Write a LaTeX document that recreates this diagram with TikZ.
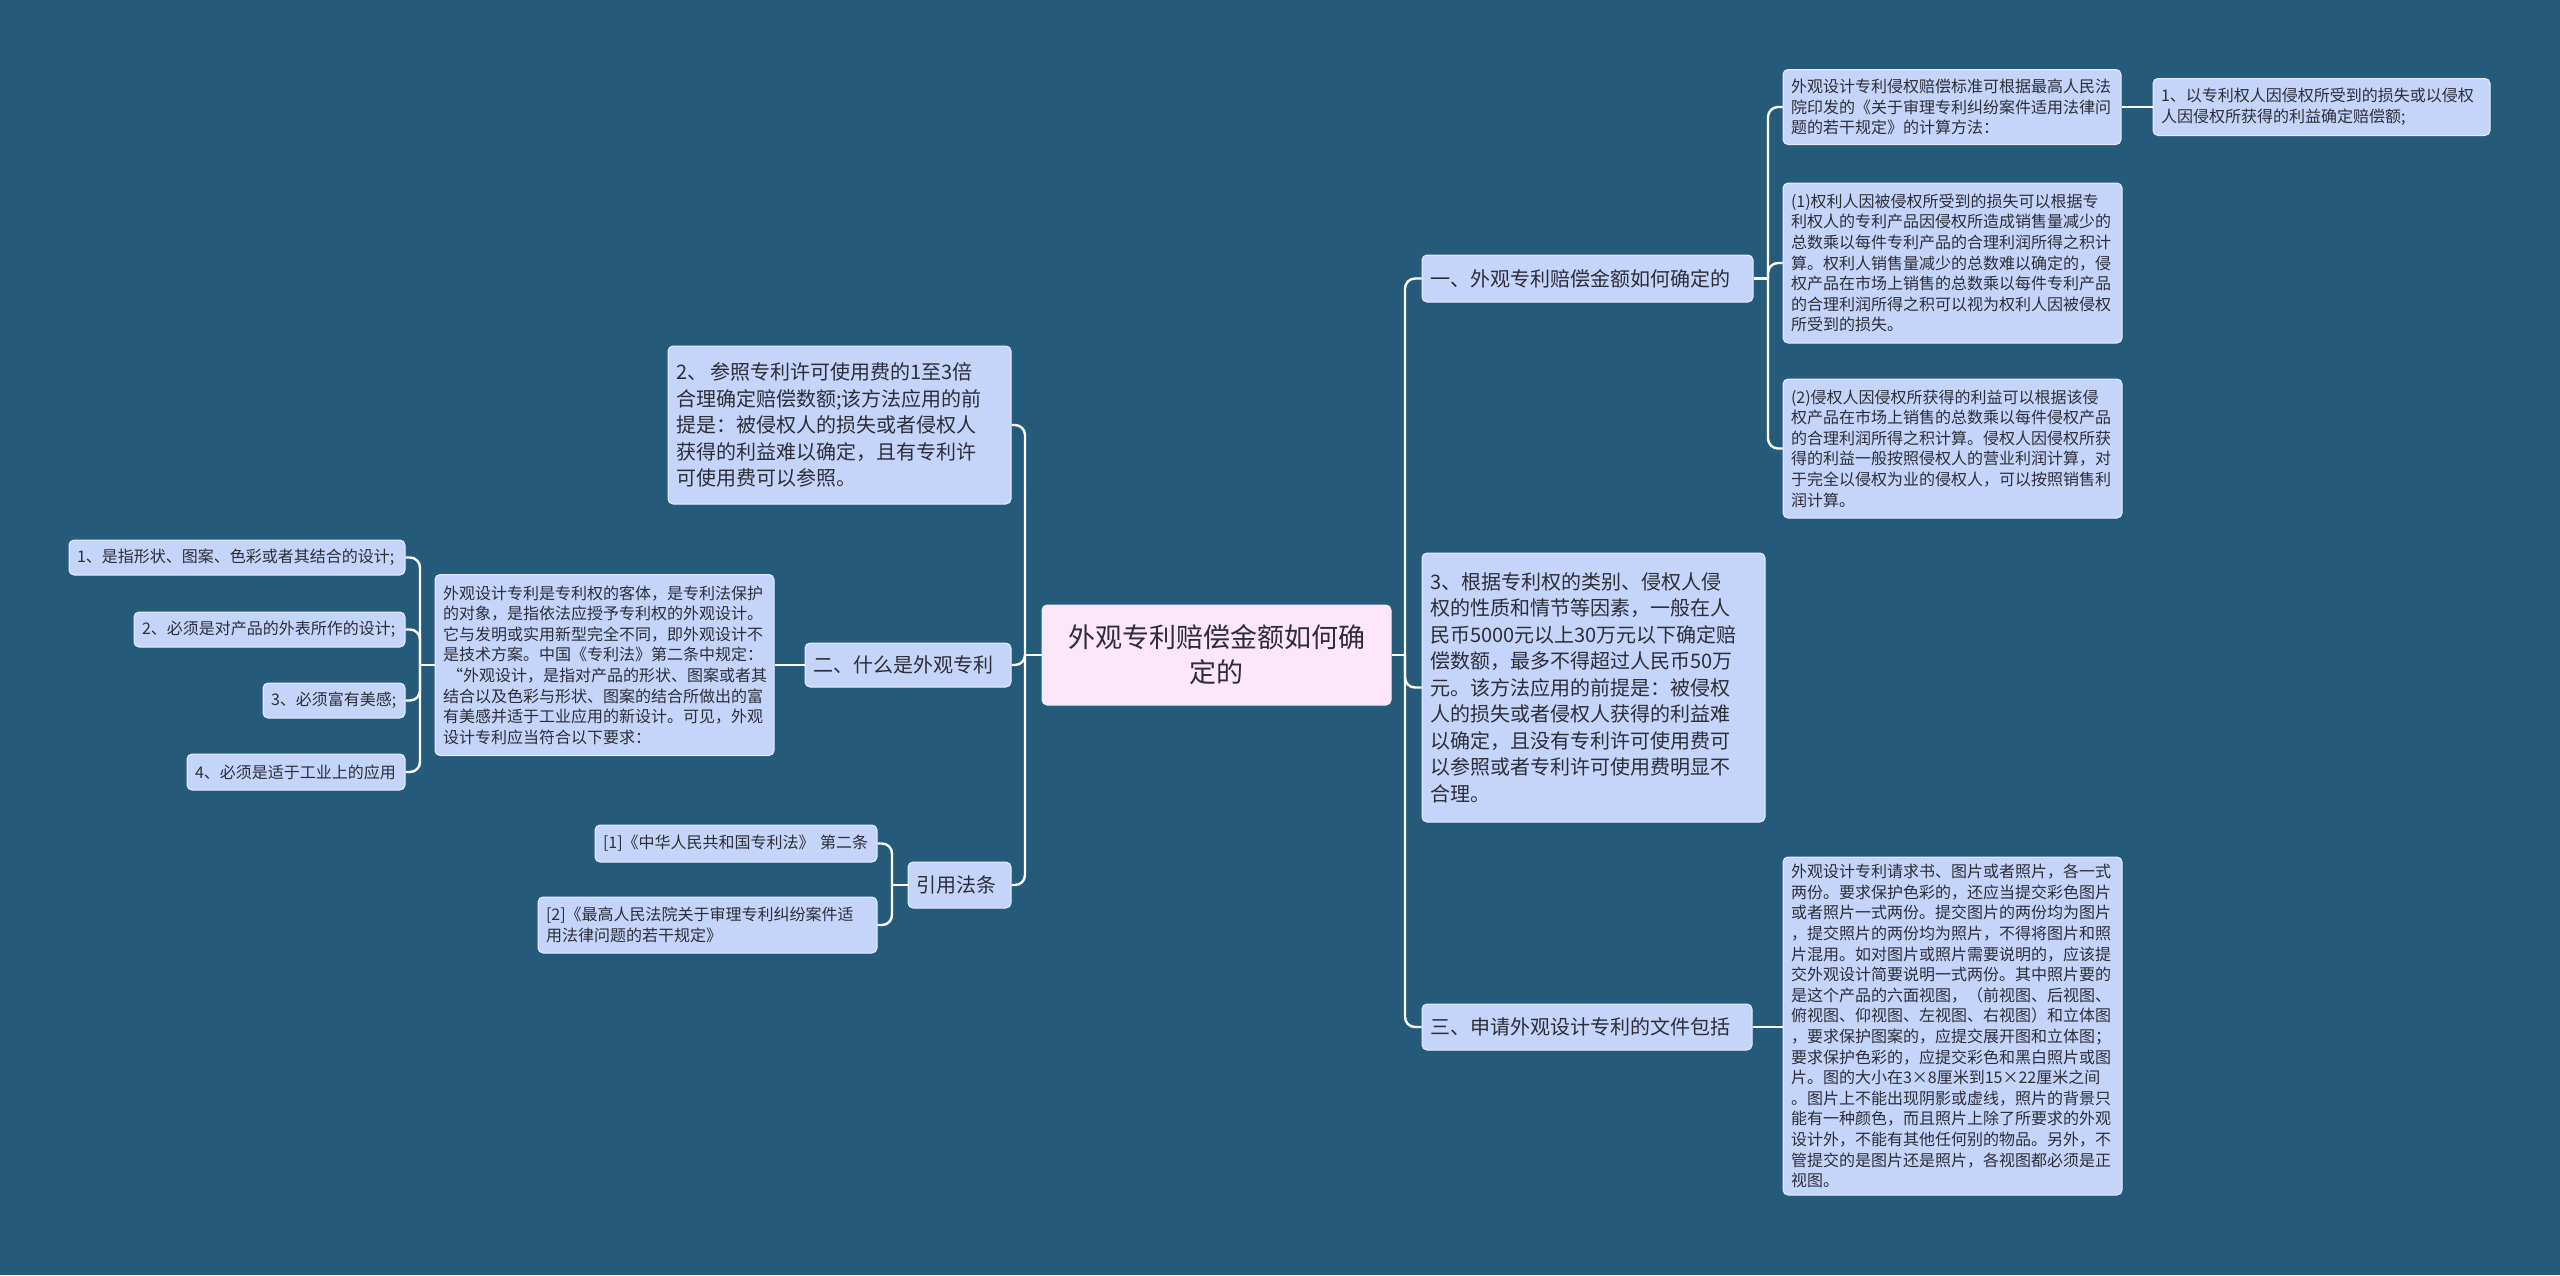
\documentclass[tikz,border=0pt]{standalone}
\usepackage{fontspec}
\setmainfont{Noto Sans CJK SC}
\definecolor{bg}{RGB}{38,90,122}
\definecolor{nodefill}{RGB}{197,213,250}
\definecolor{rootfill}{RGB}{253,230,247}
\definecolor{txt}{RGB}{45,45,55}
\definecolor{edge}{RGB}{232,238,255}
\tikzset{
  base/.style={draw=edge, line width=1pt, rounded corners=5pt, fill=nodefill, text=txt,
    inner xsep=8pt, inner ysep=0pt, align=left},
  small/.style={base, font=\fontsize{16}{20.6}\selectfont},
  mid/.style={base, font=\fontsize{20}{26.5}\selectfont},
  rootbox/.style={base, fill=rootfill, align=center, font=\fontsize{27}{35}\selectfont},
  conn/.style={draw=white, line width=2.4pt, rounded corners=10pt},
}
\begin{document}
\begin{tikzpicture}[x=1pt,y=-1pt]
\useasboundingbox[fill=bg] (0,0) rectangle (2560,1275);

% root
\node[rootbox, minimum width=349pt, minimum height=100pt, text width=329pt] (root) at (1216.5,655) {外观专利赔偿金额如何确\\定的};

% right side
\node[mid, minimum width=331pt, minimum height=47pt, text width=315pt] (c1) at (1587.5,278.5) {一、外观专利赔偿金额如何确定的};
\node[small, minimum width=338pt, minimum height=75pt, text width=322pt] (a1) at (1952,107) {外观设计专利侵权赔偿标准可根据最高人民法\\院印发的《关于审理专利纠纷案件适用法律问\\题的若干规定》的计算方法：};
\node[small, minimum width=337pt, minimum height=57pt, text width=321pt] (la) at (2321.5,107) {1、以专利权人因侵权所受到的损失或以侵权\\人因侵权所获得的利益确定赔偿额;};
\node[small, minimum width=339pt, minimum height=160pt, text width=323pt] (p1) at (1952.5,263) {(1)权利人因被侵权所受到的损失可以根据专\\利权人的专利产品因侵权所造成销售量减少的\\总数乘以每件专利产品的合理利润所得之积计\\算。权利人销售量减少的总数难以确定的，侵\\权产品在市场上销售的总数乘以每件专利产品\\的合理利润所得之积可以视为权利人因被侵权\\所受到的损失。};
\node[small, minimum width=339pt, minimum height=139pt, text width=323pt] (p2) at (1952.5,448.5) {(2)侵权人因侵权所获得的利益可以根据该侵\\权产品在市场上销售的总数乘以每件侵权产品\\的合理利润所得之积计算。侵权人因侵权所获\\得的利益一般按照侵权人的营业利润计算，对\\于完全以侵权为业的侵权人，可以按照销售利\\润计算。};
\node[mid, minimum width=343pt, minimum height=269pt, text width=327pt] (c2) at (1593.5,687.5) {3、根据专利权的类别、侵权人侵\\权的性质和情节等因素，一般在人\\民币5000元以上30万元以下确定赔\\偿数额，最多不得超过人民币50万\\元。该方法应用的前提是：被侵权\\人的损失或者侵权人获得的利益难\\以确定，且没有专利许可使用费可\\以参照或者专利许可使用费明显不\\合理。};
\node[mid, minimum width=330pt, minimum height=46pt, text width=314pt] (c3) at (1587,1027) {三、申请外观设计专利的文件包括};
\node[small, minimum width=339pt, minimum height=338pt, text width=323pt] (big) at (1952.5,1026) {外观设计专利请求书、图片或者照片，各一式\\两份。要求保护色彩的，还应当提交彩色图片\\或者照片一式两份。提交图片的两份均为图片\\，提交照片的两份均为照片，不得将图片和照\\片混用。如对图片或照片需要说明的，应该提\\交外观设计简要说明一式两份。其中照片要的\\是这个产品的六面视图，（前视图、后视图、\\俯视图、仰视图、左视图、右视图）和立体图\\，要求保护图案的，应提交展开图和立体图；\\要求保护色彩的，应提交彩色和黑白照片或图\\片。图的大小在3×8厘米到15×22厘米之间\\。图片上不能出现阴影或虚线，照片的背景只\\能有一种颜色，而且照片上除了所要求的外观\\设计外，不能有其他任何别的物品。另外，不\\管提交的是图片还是照片，各视图都必须是正\\视图。};

% left side
\node[mid, minimum width=343pt, minimum height=158pt, text width=327pt] (n2) at (839.5,425) {2、\hspace{3pt}参照专利许可使用费的1至3倍\\合理确定赔偿数额;该方法应用的前\\提是：被侵权人的损失或者侵权人\\获得的利益难以确定，且有专利许\\可使用费可以参照。};
\node[mid, minimum width=206pt, minimum height=44pt, text width=190pt] (er) at (908,665) {二、什么是外观专利};
\node[small, minimum width=339pt, minimum height=181pt, text width=323pt] (desc) at (604.5,665) {外观设计专利是专利权的客体，是专利法保护\\的对象，是指依法应授予专利权的外观设计。\\它与发明或实用新型完全不同，即外观设计不\\是技术方案。中国《专利法》第二条中规定：\\\hspace*{4pt}“外观设计，是指对产品的形状、图案或者其\\结合以及色彩与形状、图案的结合所做出的富\\有美感并适于工业应用的新设计。可见，外观\\设计专利应当符合以下要求：};
\node[small, minimum width=336pt, minimum height=35pt, text width=320pt] (l1) at (237,557.5) {1、是指形状、图案、色彩或者其结合的设计;};
\node[small, minimum width=271pt, minimum height=35pt, text width=255pt] (l2) at (269.5,629.5) {2、必须是对产品的外表所作的设计;};
\node[small, minimum width=142pt, minimum height=35pt, text width=126pt] (l3) at (334,700.5) {3、必须富有美感;};
\node[small, minimum width=218pt, minimum height=36pt, text width=202pt] (l4) at (296,772) {4、必须是适于工业上的应用};
\node[mid, minimum width=103pt, minimum height=46pt, text width=87pt] (yin) at (959.5,885) {引用法条};
\node[small, minimum width=282pt, minimum height=37pt, text width=266pt] (r1) at (736,843.5) {[1]《中华人民共和国专利法》 第二条};
\node[small, minimum width=339pt, minimum height=56pt, text width=323pt] (r2) at (707.5,925) {[2]《最高人民法院关于审理专利纠纷案件适\\用法律问题的若干规定》};

% trunk coordinates
\coordinate (tR) at (1405,655);
\coordinate (t1) at (1768,278.5);
\coordinate (tL) at (1025,655);
\coordinate (tD) at (420,665);
\coordinate (tY) at (892,885);

% connectors right
\draw[conn] (root.east) -- (tR);
\draw[conn] (tR) |- (c1.west);
\draw[conn] (tR) |- (c2.west);
\draw[conn] (tR) |- (c3.west);
\draw[conn] (c1.east) -- (t1);
\draw[conn] (t1) |- (a1.west);
\draw[conn] (t1) |- (p1.west);
\draw[conn] (t1) |- (p2.west);
\draw[conn] (a1.east) -- (la.west);
\draw[conn] (c3.east) -- (big.west |- c3.east);

% connectors left
\draw[conn] (root.west) -- (tL);
\draw[conn] (tL) |- (n2.east);
\draw[conn] (tL) |- (er.east);
\draw[conn] (tL) |- (yin.east);
\draw[conn] (er.west) -- (desc.east);
\draw[conn] (desc.west) -- (tD);
\draw[conn] (tD) |- (l1.east);
\draw[conn] (tD) |- (l2.east);
\draw[conn] (tD) |- (l3.east);
\draw[conn] (tD) |- (l4.east);
\draw[conn] (yin.west) -- (tY);
\draw[conn] (tY) |- (r1.east);
\draw[conn] (tY) |- (r2.east);
\end{tikzpicture}
\end{document}
